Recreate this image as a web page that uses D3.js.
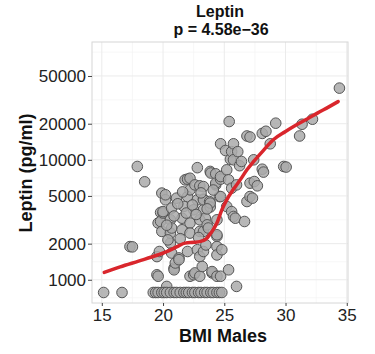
<!DOCTYPE html>
<html>
<head>
<meta charset="utf-8">
<script src="https://cdn.jsdelivr.net/npm/d3@7"></script>
<style>
  html, body { margin: 0; padding: 0; background: #fff; }
  svg { display: block; }
  text { font-family: "Liberation Sans", Arial, Helvetica, sans-serif; }
</style>
</head>
<body>
<svg id="chart" width="375" height="354"></svg>
<script>
// ---- Data ----
const titleLines = ["Leptin", "p = 4.58e\u221236"];
const xLabel = "BMI Males";
const yLabel = "Leptin (pg/ml)";

const xTicks = [15, 20, 25, 30, 35];
const yTicks = [1000, 2000, 5000, 10000, 20000, 50000];

// BMI values of the points
const bmi = [
  15.15, 16.65, 17.3, 17.5, 17.9, 18.5,
  19.5, 19.5, 19.6, 19.6, 19.7, 19.8, 19.8, 19.9, 19.9, 20.0, 20.0, 20.2, 20.2, 20.3,
  20.6, 20.6, 20.6, 20.7, 20.7, 20.7, 20.9, 20.9, 21.0, 21.1, 21.3, 21.3,
  21.55, 21.55, 21.7, 21.8, 22.0, 22.0, 22.0, 22.2, 22.2, 22.2, 22.2, 22.2,
  22.5, 22.5, 22.6, 22.6, 22.8, 22.8, 22.8, 23.0, 23.0, 23.0, 23.0, 23.0,
  23.2, 23.3, 23.3, 23.3, 23.3, 23.3, 23.3, 23.45, 23.6, 23.7, 23.8, 23.85, 23.85, 23.85, 23.9,
  24.0, 24.0, 24.3, 24.3, 24.3, 24.4, 24.4, 24.4, 24.4, 24.4, 24.4,
  24.6, 24.7, 24.7, 24.7, 24.7, 24.7, 24.8,
  25.1, 25.2, 25.2, 25.35, 25.35, 25.4, 25.5, 25.6, 25.6, 25.6, 25.75, 25.75, 25.75, 25.9,
  26.0, 26.0, 26.1, 26.25, 26.4, 26.65, 26.85, 26.85, 27.1, 27.1, 27.1, 27.3, 27.4, 27.45, 27.7,
  28.1, 28.1, 28.2, 28.4, 28.75, 29.2, 29.85, 30.05, 31.15, 31.35, 32.2, 34.4,
  // extra points read in the dense cloud
  20.3, 20.9, 21.2, 21.6, 21.9, 22.4, 22.7, 23.1, 23.6, 24.1, 21.4, 22.9, 20.4, 23.5,
  // bottom row (values at the detection limit)
  19.2, 19.4, 19.6, 19.9, 20.1, 20.3, 20.6, 20.9, 21.1, 21.4, 21.7, 21.9,
  22.1, 22.4, 22.6, 22.9, 23.1, 23.4, 23.6, 23.9, 24.1, 24.4, 24.6, 24.8
];
// Leptin values (pg/ml) of the points, same order
const leptin = [
  783, 783, 1890, 1880, 8800, 6560,
  1560, 1100, 1070, 2970, 1720, 3640, 3060, 5280, 2530, 3600, 3700, 4640, 5110, 880,
  2020, 2450, 3160, 2700, 3960, 1670, 1250, 1210, 1380, 4790, 1520, 1470,
  3260, 2610, 4090, 6810, 4940, 6900, 1720, 7020, 5620, 2970, 2450, 1070,
  3830, 1100, 6180, 1140, 4640, 1780, 8600, 6070, 3160, 2530, 1560, 1070,
  1290, 4700, 3830, 1720, 5980, 4640, 2530, 3260, 2870, 2700, 4490, 8000, 4040, 4360, 7760,
  1140, 1170, 7640, 6180, 6390, 2300, 1890, 1610, 3160, 2370, 1070,
  4940, 6900, 13600, 1070, 7250, 4940, 1780,
  11960, 8250, 4080, 6810, 1210, 20850, 10100, 11700, 5800, 3700, 13600, 10000, 3370, 3260,
  880, 6180, 11700, 8930, 9690, 3060, 15800, 4490, 15500, 4940, 6390, 4790, 10000, 6590, 6070,
  16600, 8350, 7900, 17300, 13600, 20200, 8800, 8700, 15800, 19800, 21800, 39600,
  2850, 3400, 4300, 5400, 3600, 4200, 3500, 5300, 3900, 5600, 2200, 2250, 2150, 1950,
  783, 783, 783, 783, 783, 783, 783, 783, 783, 783, 783, 783,
  783, 783, 783, 783, 783, 783, 783, 783, 783, 783, 783, 783
];

// Smoothed fit line
const fitBmi = [15.2, 16.5, 18, 19.5, 20.5, 21.2, 21.8, 22.5, 23.0, 23.5, 23.9, 24.4, 24.8, 25.2, 25.76, 26.3, 26.85, 27.4, 28.2, 29.0, 30.0, 30.9, 31.8, 32.6, 33.5, 34.3];
const fitLeptin = [1150, 1280, 1430, 1600, 1750, 1900, 2020, 2050, 2080, 2180, 2450, 2970, 3830, 4640, 5700, 6810, 8250, 9690, 12000, 14680, 17200, 19570, 22000, 24500, 27500, 30600];

// ---- Layout ----
const svg = d3.select("#chart");
const panel = { left: 92, right: 348, top: 42, bottom: 303 };

const x = d3.scaleLinear().domain([14.2, 35.1]).range([panel.left, panel.right]);
const y = d3.scaleLog().domain([640, 96000]).range([panel.bottom, panel.top]);

// grid
const grid = svg.append("g");
const xMinor = xTicks.slice(0, -1).map((t, i) => (t + xTicks[i + 1]) / 2);
const ly = yTicks.map(Math.log10);
const yMinor = [];
for (let i = 0; i < ly.length - 1; i++) yMinor.push(Math.pow(10, (ly[i] + ly[i + 1]) / 2));
yMinor.unshift(Math.pow(10, ly[0] - (ly[1] - ly[0]) / 2));
yMinor.push(Math.pow(10, ly[ly.length - 1] + (ly[ly.length - 1] - ly[ly.length - 2]) / 2));

grid.selectAll(".vminor").data(xMinor.filter(v => x(v) > panel.left && x(v) < panel.right)).join("line")
  .attr("x1", d => x(d)).attr("x2", d => x(d)).attr("y1", panel.top).attr("y2", panel.bottom)
  .attr("stroke", "#f3f3f3").attr("stroke-width", 0.7);
grid.selectAll(".hminor").data(yMinor.filter(v => y(v) > panel.top && y(v) < panel.bottom)).join("line")
  .attr("y1", d => y(d)).attr("y2", d => y(d)).attr("x1", panel.left).attr("x2", panel.right)
  .attr("stroke", "#f3f3f3").attr("stroke-width", 0.7);
grid.selectAll(".vmajor").data(xTicks).join("line")
  .attr("x1", d => x(d)).attr("x2", d => x(d)).attr("y1", panel.top).attr("y2", panel.bottom)
  .attr("stroke", "#ebebeb").attr("stroke-width", 1);
grid.selectAll(".hmajor").data(yTicks).join("line")
  .attr("y1", d => y(d)).attr("y2", d => y(d)).attr("x1", panel.left).attr("x2", panel.right)
  .attr("stroke", "#ebebeb").attr("stroke-width", 1);

// panel border
svg.append("rect")
  .attr("x", panel.left).attr("y", panel.top)
  .attr("width", panel.right - panel.left).attr("height", panel.bottom - panel.top)
  .attr("fill", "none").attr("stroke", "#d6d6d6").attr("stroke-width", 1);

// axes
const xAxis = d3.axisBottom(x).tickValues(xTicks).tickSize(3).tickPadding(3).tickFormat(d3.format("d"));
const yAxis = d3.axisLeft(y).tickValues(yTicks).tickSize(4).tickPadding(2).tickFormat(d3.format("d"));

const gx = svg.append("g").attr("transform", `translate(0,${panel.bottom})`).call(xAxis);
const gy = svg.append("g").attr("transform", `translate(${panel.left},0)`).call(yAxis);
[gx, gy].forEach(g => {
  g.select(".domain").remove();
  g.selectAll(".tick line").attr("stroke", "#444");
  g.selectAll(".tick text").attr("fill", "#222").style("font-size", "17px");
});

// points
svg.append("g").selectAll("circle").data(bmi.map((b, i) => [b, leptin[i]])).join("circle")
  .attr("cx", d => x(d[0])).attr("cy", d => y(d[1])).attr("r", 5.3)
  .attr("fill", "#aaaaaa").attr("fill-opacity", 0.85)
  .attr("stroke", "#555").attr("stroke-width", 1);

// fit line
const line = d3.line().x(d => x(d[0])).y(d => y(d[1])).curve(d3.curveMonotoneX);
svg.append("path").datum(fitBmi.map((b, i) => [b, fitLeptin[i]]))
  .attr("d", line).attr("fill", "none").attr("stroke", "#d9262c")
  .attr("stroke-width", 3.5).attr("stroke-linecap", "round");

// titles
svg.append("text").attr("x", 220).attr("y", 17).attr("text-anchor", "middle")
  .style("font-size", "16px").style("font-weight", "bold").attr("fill", "#111").text(titleLines[0]);
svg.append("text").attr("x", 221).attr("y", 35).attr("text-anchor", "middle")
  .style("font-size", "16px").style("font-weight", "bold").attr("fill", "#111").text(titleLines[1]);

svg.append("text").attr("x", 223).attr("y", 342).attr("text-anchor", "middle")
  .style("font-size", "18px").style("font-weight", "bold").attr("fill", "#111").text(xLabel);

svg.append("text").attr("transform", "translate(32,173) rotate(-90)").attr("text-anchor", "middle")
  .style("font-size", "18px").style("font-weight", "bold").attr("fill", "#111").text(yLabel);
</script>
</body>
</html>
